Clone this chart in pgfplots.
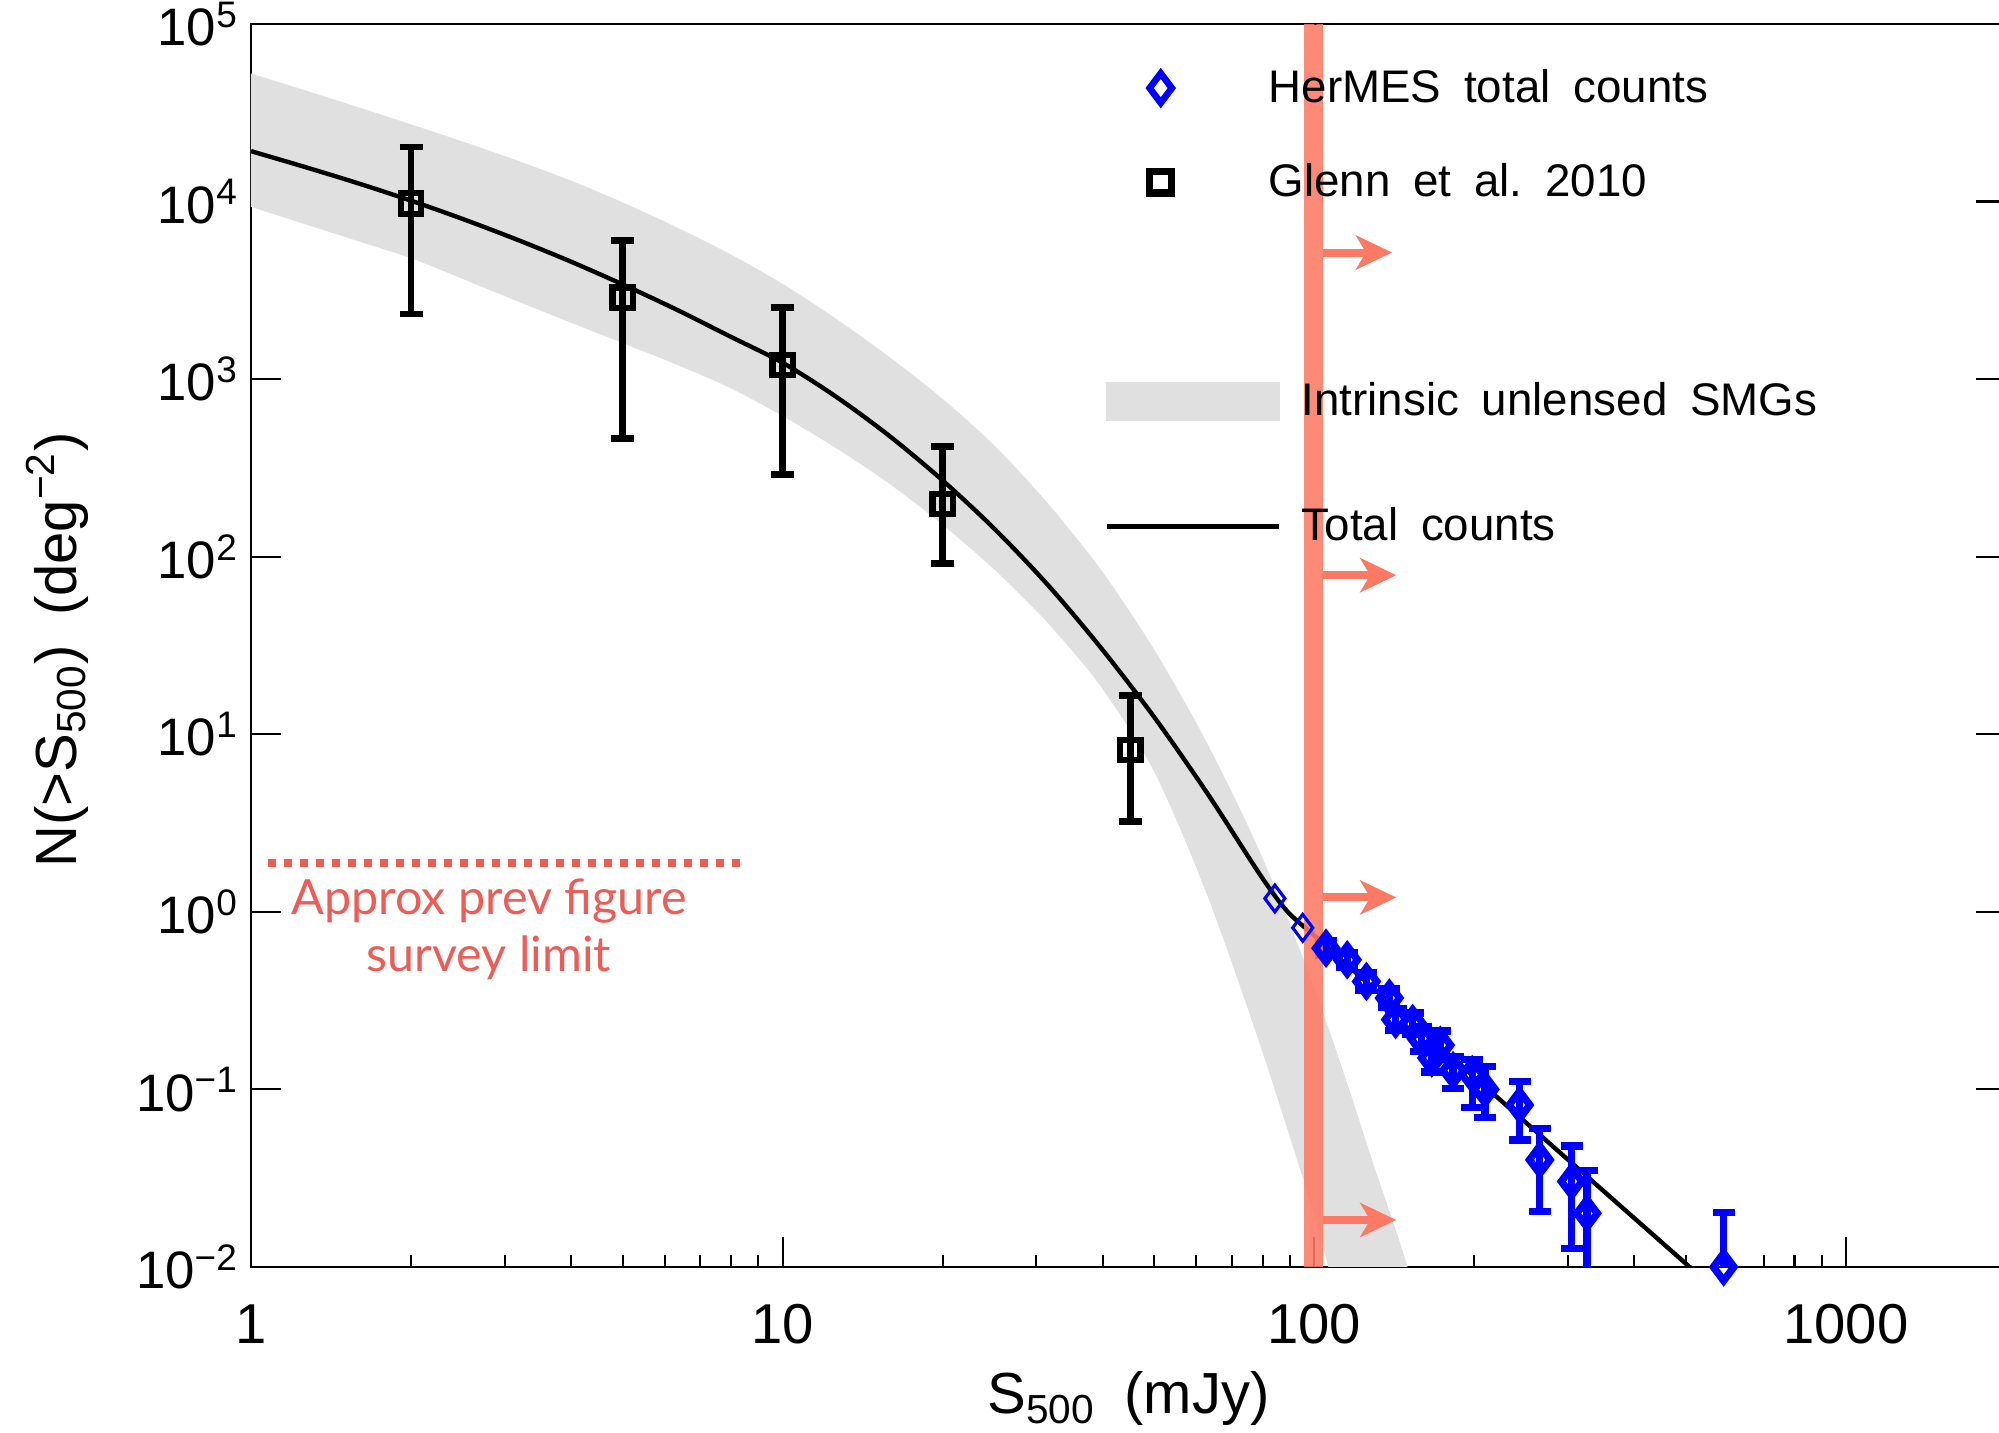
\documentclass[border=0pt]{standalone}
\usepackage{fontspec}
\setmainfont{Liberation Sans}
\newfontfamily\gill{Lato}
\usepackage{pgfplots}
\pgfplotsset{compat=1.18}
\usetikzlibrary{arrows.meta}

\definecolor{bandgray}{RGB}{224,224,224}
\definecolor{redband}{RGB}{252,122,100}
\definecolor{annot}{RGB}{236,93,87}
\definecolor{hblue}{RGB}{0,0,255}

\begin{document}
\begin{tikzpicture}
\useasboundingbox (-2.51cm,-1.66cm) rectangle (17.48cm,12.67cm);
\begin{axis}[
  at={(0,0)}, anchor=south west,
  scale only axis, width=17.55cm, height=12.43cm,
  xmode=log, ymode=log,
  xmin=1, xmax=2000, ymin=0.01, ymax=1e5,
  axis line style={line width=0.6pt},
  tick align=inside,
  xtick pos=bottom, ytick pos=both,
  xtick={1,10,100,1000}, xticklabels={1,10,100,1000},
  minor xtick={2,3,4,5,6,7,8,9,20,30,40,50,60,70,80,90,200,300,400,500,600,700,800,900},
  ytick={0.01,0.1,1,10,100,1000,10000,100000},
  yticklabels={10\textsuperscript{−2},10\textsuperscript{−1},10\textsuperscript{0},10\textsuperscript{1},10\textsuperscript{2},10\textsuperscript{3},10\textsuperscript{4},10\textsuperscript{5}},
  minor y tick style={draw=none},
  major tick length=0.3cm, minor tick length=0.12cm,
  every tick/.style={line width=0.6pt, black},
  yticklabel style={font=\fontsize{15}{18}\selectfont},
  xticklabel style={font=\fontsize{16}{18}\selectfont, yshift=-0.25cm},
  xlabel={S\textsubscript{500}\enspace(mJy)},
  ylabel={N(>S\textsubscript{500})\enspace(deg\textsuperscript{−2})},
  every axis x label/.style={at={(axis description cs:0.5,-0.1062)}, anchor=center, font=\fontsize{16.5}{18}\selectfont},
  every axis y label/.style={at={(axis description cs:-0.1105,0.4964)}, anchor=center, rotate=90, font=\fontsize{16.5}{18}\selectfont},
  legend style={at={(axis description cs:0.4872,0.9644)}, anchor=north west, draw=none, fill=none, inner sep=0pt, row sep=0.556cm, column sep=0pt, font=\fontsize{13}{15}\selectfont, nodes={inner sep=0pt}},
  legend cell align=left,
]
% intrinsic band
\addplot[fill=bandgray, draw=none, smooth, tension=0.5, forget plot] coordinates {
 (0.9,57810) (1,52600) (1.2589,42460) (1.5849,34120) (1.9953,27290) (2.5119,21680) (3.1623,17060)
 (3.9811,13180) (5.0119,9863) (6.3096,7178) (7.9433,5082) (10,3436) (12.589,2193) (15.849,1337)
 (19.953,778.0) (25.119,418.0) (31.623,197.7) (39.811,83.37) (50.119,29.58) (63.096,8.730)
 (79.433,2.094) (100,0.3724) (125.89,0.04797) (158.49,0.004581)
 (125.89,0.001959) (100,0.01959) (79.433,0.1706) (63.096,1.208) (50.119,6.053) (39.811,18.28)
 (31.623,41.88) (25.119,83.56) (19.953,152.1) (15.849,258.2) (12.589,409.3) (10,619.4) (7.9433,895.4)
 (6.3096,1208) (5.0119,1592) (3.9811,2089) (3.1623,2754) (2.5119,3648) (1.9953,4808) (1.5849,5998)
 (1.2589,7482) (1,9333) (0.9,10330)
} -- cycle;
% total counts model
\addplot[black, line width=1.25pt, smooth, tension=0.5, forget plot] coordinates {
 (1,19230) (1.2589,15700) (1.5849,12710) (1.9953,10140) (2.5119,7943) (3.1623,6109) (3.9811,4613)
 (5.0119,3404) (6.3096,2466) (7.9433,1746) (10,1236) (12.589,798.0) (15.849,480.8) (19.953,270.4)
 (25.119,141.9) (31.623,68.71) (39.811,30.34) (50.119,12.36) (63.096,4.592) (79.433,1.585)
 (89.125,1.0) (100,0.7362) (112.2,0.5395) (158.49,0.2168) (251.19,0.06427) (398.11,0.01905) (524.8,0.009183)
};
% Glenn et al. 2010
\addplot[only marks, mark=square, mark size=2.9pt, black, mark options={line width=1.8pt, solid}, forget plot,
  error bars/.cd, y dir=both, y explicit, error bar style={line width=1.9pt, black},
  error mark options={rotate=90, mark size=0.115cm, line width=1.9pt, black}] coordinates {
 (2,9750) += (0,10550) -= (0,7427)
 (5,2870) += (0,3140) -= (0,2406)
 (10,1200) += (0,1340) -= (0,910)
 (20,198) += (0,218) -= (0,106.4)
 (45.1,8.15) += (0,8.35) -= (0,4.93)
};
% HerMES thin points
\addplot[only marks, mark=diamond, mark size=3.8pt, hblue, mark options={line width=0.9pt}, forget plot] coordinates {
 (84.3,1.189) (95.1,0.813)
};
% HerMES thick points with error bars
\addplot[only marks, mark=diamond, mark size=3.9pt, hblue, mark options={line width=2.1pt}, forget plot,
  error bars/.cd, y dir=both, y explicit, error bar style={line width=2.1pt, hblue},
  error mark options={rotate=90, mark size=0.11cm, line width=2.1pt, hblue}] coordinates {
 (105.2,0.624) += (0,0.060) -= (0,0.055)
 (115.3,0.537) += (0,0.052) -= (0,0.047)
 (125.3,0.4055) += (0,0.0495) -= (0,0.0441)
 (138.4,0.3273) += (0,0.040) -= (0,0.0356)
 (142.2,0.2472) += (0,0.0366) -= (0,0.0319)
 (153.1,0.2350) += (0,0.0348) -= (0,0.0303)
 (158.9,0.1928) += (0,0.0337) -= (0,0.0287)
 (166.3,0.1503) += (0,0.0303) -= (0,0.0252)
 (172.6,0.1774) += (0,0.0357) -= (0,0.0297)
 (182.4,0.1276) += (0,0.0258) -= (0,0.0262)
 (198.2,0.1213) += (0,0.0266) -= (0,0.0419)
 (209.4,0.1000) += (0,0.0349) -= (0,0.0308)
 (243.2,0.0817) += (0,0.0287) -= (0,0.0298)
 (265.5,0.0401) += (0,0.0203) -= (0,0.0196)
 (304.8,0.0303) += (0,0.0177) -= (0,0.0176)
 (325.8,0.02004) += (0,0.0148) -= (0,0.0195)
 (588.8,0.0100) += (0,0.0102) -= (0,0.0095)
};
% red survey band
\addplot[draw=none, fill=redband, fill opacity=0.88, forget plot] coordinates {
 (95.7,0.01) (103.8,0.01) (103.8,100000) (95.7,100000)
} -- cycle;
% arrows
\draw[redband, line width=0.08cm, -{Stealth[length=0.36cm, width=0.34cm, inset=0.1cm]}] (axis cs:103.8,5164) -- (axis cs:140,5164);
\draw[redband, line width=0.08cm, -{Stealth[length=0.36cm, width=0.34cm, inset=0.1cm]}] (axis cs:103.8,78.7) -- (axis cs:142.6,78.7);
\draw[redband, line width=0.08cm, -{Stealth[length=0.36cm, width=0.34cm, inset=0.1cm]}] (axis cs:103.8,1.205) -- (axis cs:142.6,1.205);
\draw[redband, line width=0.08cm, -{Stealth[length=0.36cm, width=0.34cm, inset=0.1cm]}] (axis cs:103.8,0.0184) -- (axis cs:142.6,0.0184);
% survey limit annotation
\draw[annot, line width=0.075cm, dash pattern=on 0.08cm off 0.08cm] (axis cs:1.075,1.88) -- (axis cs:8.3,1.88);
\node[annot, align=center, font=\gill\fontsize{13.8}{16.2}\selectfont, anchor=center] at (axis cs:2.805,0.795) {Approx prev figure\\survey limit};
% top ticks
\draw[line width=0.6pt] (axis cs:10,100000) -- ++(0,-0.12cm);
\draw[line width=0.6pt] (axis cs:100,100000) -- ++(0,-0.12cm);
\draw[line width=0.6pt] (axis cs:1000,100000) -- ++(0,-0.12cm);
% legend entries
\addlegendimage{legend image code/.code={\path[draw=none] (0cm,0cm) -- (1.62cm,0cm); \path[draw=hblue, line width=1.9pt] plot[mark=diamond, mark size=4.2pt] coordinates {(0.54cm,0cm)};}}
\addlegendentry{HerMES\enspace total\enspace counts}
\addlegendimage{legend image code/.code={\path[draw=none] (0cm,0cm) -- (1.62cm,0cm); \path[draw=black, line width=2pt] plot[mark=square, mark size=3.1pt] coordinates {(0.54cm,0cm)};}}
\addlegendentry{Glenn\enspace et\enspace al.\enspace 2010}
\end{axis}
\begin{axis}[
  at={(0,0)}, anchor=south west,
  scale only axis, width=17.55cm, height=12.43cm,
  hide axis, xmin=0, xmax=1, ymin=0, ymax=1,
  legend style={at={(axis description cs:0.486,0.7129)}, anchor=north west, draw=none, fill=none, inner sep=0pt, row sep=0.864cm, column sep=0.206cm, font=\fontsize{13}{15}\selectfont, nodes={inner sep=0pt}},
  legend cell align=left,
]
\addlegendimage{legend image code/.code={\fill[bandgray] (0cm,-0.19cm) rectangle (1.72cm,0.19cm);}}
\addlegendentry{Intrinsic\enspace unlensed\enspace SMGs}
\addlegendimage{legend image code/.code={\draw[black, line width=1.3pt] (0cm,0cm) -- (1.72cm,0cm);}}
\addlegendentry{Total\enspace counts}
\end{axis}
\end{tikzpicture}
\end{document}
